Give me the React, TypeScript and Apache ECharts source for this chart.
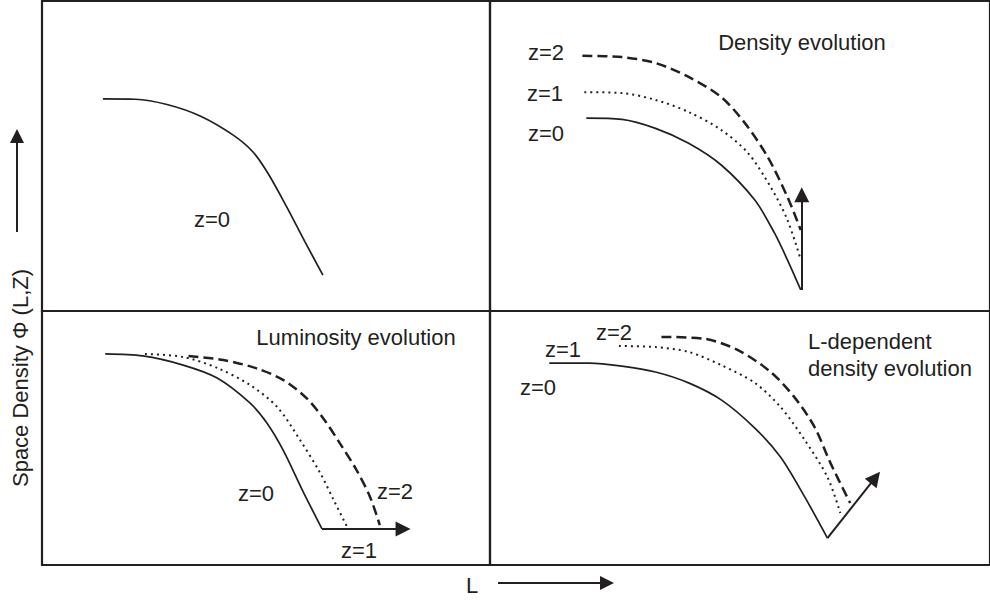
import React, { useEffect, useRef } from "react";
import * as echarts from "echarts";

// Panel-local units: x = log L (0..100 across panel), y = log Φ (0..100 up the panel)
type P = [number, number];

// Panel 1 (top-left): no evolution
const tlZ0: P[] = [[13.6, 68.4], [20.8, 68.3], [27.9, 66.6], [35.3, 62.9], [42.6, 56.8], [47.1, 51.3], [50.4, 44.5], [54.5, 33.9], [58.7, 22.3], [62.7, 11.6]];

// Panel 2 (top-right): density evolution
const trZ0: P[] = [[19.5, 62.2], [26.7, 61.8], [33.5, 58.9], [40.2, 54.1], [46.8, 47.1], [53.6, 35.8], [57.6, 25.1], [60.2, 16.5], [62.9, 6.8]];
const trZ1: P[] = [[19.1, 70.6], [26.7, 70.3], [33.5, 68.1], [40.2, 64.2], [46.8, 58.4], [52.2, 51.0], [56.8, 40.0], [60.2, 29.4], [62.9, 16.5]];
const trZ2: P[] = [[18.7, 82.3], [26.7, 81.9], [33.5, 80.0], [40.2, 75.5], [46.8, 69.0], [51.6, 60.6], [56.2, 49.7], [60.2, 36.8], [62.9, 26.1]];
const trArrow: P[] = [[63.1, 6.8], [63.1, 37.5]];

// Panel 3 (bottom-left): luminosity evolution
const blZ0: P[] = [[14.1, 83.1], [22.5, 82.3], [31.5, 78.7], [39.1, 73.6], [46.4, 63.8], [50.2, 55.9], [53.8, 45.3], [58.0, 29.9], [62.5, 14.2]];
const blZ1: P[] = [[23.0, 83.1], [31.5, 81.9], [39.1, 77.6], [46.4, 70.9], [52.5, 62.2], [57.6, 49.2], [62.1, 36.2], [65.1, 25.6], [68.1, 15.0]];
const blZ2: P[] = [[32.7, 82.3], [40.5, 80.7], [47.9, 77.4], [53.9, 72.8], [59.1, 65.6], [62.8, 57.7], [66.5, 47.9], [70.2, 37.4], [73.2, 26.9], [75.4, 15.7]];
const blArrow: P[] = [[62.5, 14.2], [80.6, 14.2]];

// Panel 4 (bottom-right): L-dependent density evolution
const brZ0: P[] = [[12.0, 79.5], [20.1, 79.5], [26.7, 78.3], [33.5, 76.0], [40.2, 71.7], [46.8, 65.0], [53.6, 53.9], [58.8, 42.5], [63.7, 26.8], [68.3, 10.6]];
const brZ1: P[] = [[26.1, 86.2], [33.5, 85.8], [40.2, 83.9], [46.8, 78.7], [53.6, 71.7], [58.8, 62.2], [63.7, 49.2], [68.3, 34.6], [70.9, 20.5]];
const brZ2: P[] = [[34.7, 89.8], [43.6, 89.0], [50.2, 84.6], [56.8, 76.0], [61.6, 66.1], [65.7, 54.3], [68.9, 40.2], [72.9, 24.4]];
const brArrow: P[] = [[68.3, 10.6], [78.0, 34.4]];

const titles = ["Density evolution", "Luminosity evolution", "L-dependent\ndensity evolution"];
const yLabel = "Space Density Φ (L,Z)";
const xLabel = "L";

const INK = "#231f20";
const FONT = "Liberation Sans, Arial, Helvetica, sans-serif";

export default function App() {
  const ref = useRef<HTMLDivElement>(null);
  useEffect(() => {
    if (!ref.current) return;
    const chart = echarts.init(ref.current, undefined, { renderer: "svg" });

    const grids = [
      { left: 42, top: 1, width: 448, height: 310 },
      { left: 490, top: 1, width: 504, height: 310 },
      { left: 42, top: 311, width: 448, height: 254 },
      { left: 490, top: 311, width: 504, height: 254 },
    ].map((g) => ({ ...g, show: true, borderColor: INK, borderWidth: 2.2, backgroundColor: "transparent" }));
    const xMax = [100, 100 * 504 / 498, 100, 100 * 504 / 498];

    const xAxis = grids.map((_, i) => ({
      type: "value", gridIndex: i, min: 0, max: xMax[i], show: false,
    }));
    const yAxis = grids.map((_, i) => ({
      type: "value", gridIndex: i, min: 0, max: 100, show: false,
    }));

    const solid = { color: INK, width: 1.7, type: "solid" };
    const dotted = { color: INK, width: 2, type: [2, 4], cap: "butt" };
    const dashed = { color: INK, width: 2.5, type: [10, 5] };

    const line = (data: P[], idx: number, style: any) => ({
      type: "line",
      xAxisIndex: idx,
      yAxisIndex: idx,
      data,
      smooth: 0.3,
      showSymbol: false,
      symbol: "none",
      lineStyle: style,
      silent: true,
    });
    const arrow = (pts: P[], idx: number) => ({
      type: "lines",
      coordinateSystem: "cartesian2d",
      xAxisIndex: idx,
      yAxisIndex: idx,
      symbol: ["none", "triangle"],
      symbolSize: [16, 15],
      lineStyle: { color: INK, width: 2, opacity: 1, curveness: 0 },
      data: [{ coords: pts }],
      silent: true,
    });

    const series: any[] = [
      line(tlZ0, 0, solid),
      line(trZ0, 1, solid),
      line(trZ1, 1, dotted),
      line(trZ2, 1, dashed),
      arrow(trArrow, 1),
      line(blZ0, 2, solid),
      line(blZ1, 2, dotted),
      line(blZ2, 2, dashed),
      arrow(blArrow, 2),
      line(brZ0, 3, solid),
      line(brZ1, 3, dotted),
      line(brZ2, 3, dashed),
      arrow(brArrow, 3),
    ];

    const txt = (text: string, x: number, y: number, align = "center", extra: any = {}) => ({
      type: "text",
      x,
      y,
      silent: true,
      style: {
        text,
        fill: INK,
        font: `22px ${FONT}`,
        align,
        verticalAlign: "middle",
        lineHeight: 27,
        ...extra,
      },
    });

    const graphic: any[] = [
      txt("z=0", 212, 219),
      txt("z=2", 546, 52),
      txt("z=1", 545, 93),
      txt("z=0", 546, 133),
      txt(titles[0], 802, 42),
      txt(titles[1], 356, 337),
      txt("z=0", 256, 493),
      txt("z=2", 395, 491),
      txt("z=1", 359, 550),
      txt("z=2", 614, 332),
      txt("z=1", 563, 349),
      txt("z=0", 538, 387),
      txt(titles[2], 808, 355, "left"),
      { ...txt(yLabel, 0, 0), x: 20, y: 378, rotation: Math.PI / 2 },
      txt(xLabel, 472, 585),
      // y-axis direction arrow
      { type: "line", shape: { x1: 17, y1: 232, x2: 17, y2: 142 }, style: { stroke: INK, lineWidth: 2 }, silent: true },
      { type: "polygon", shape: { points: [[17, 129], [10, 143], [24, 143]] }, style: { fill: INK }, silent: true },
      // x-axis direction arrow
      { type: "line", shape: { x1: 498, y1: 583, x2: 602, y2: 583 }, style: { stroke: INK, lineWidth: 2 }, silent: true },
      { type: "polygon", shape: { points: [[614, 583], [600, 576], [600, 590]] }, style: { fill: INK }, silent: true },
    ];

    chart.setOption({
      animation: false,
      backgroundColor: "#ffffff",
      grid: grids,
      xAxis,
      yAxis,
      series,
      graphic,
    });
    return () => chart.dispose();
  }, []);
  return (
    <div
      ref={ref}
      style={{ position: "fixed", left: 0, top: 0, width: 990, height: 602, background: "#fff" }}
    />
  );
}
